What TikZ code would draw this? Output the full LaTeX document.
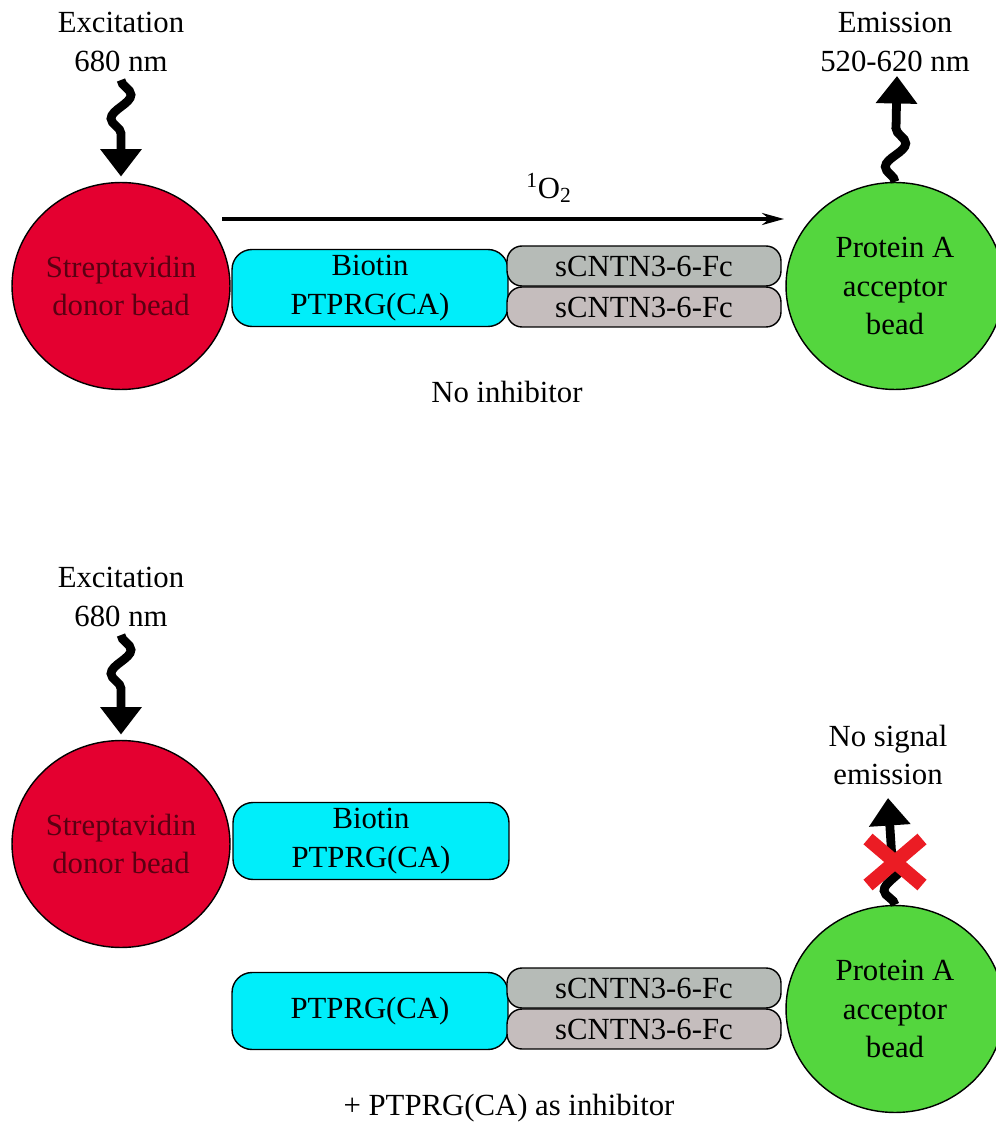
\documentclass[tikz,border=0pt]{standalone}
\usepackage{fontspec}
\setmainfont{Liberation Serif}
\usetikzlibrary{arrows.meta,decorations.pathmorphing,shapes.geometric}

\definecolor{donorred}{RGB}{228,0,48}
\definecolor{donortext}{RGB}{90,0,18}
\definecolor{acceptorgreen}{RGB}{84,214,62}
\definecolor{ptprgcyan}{RGB}{0,238,250}
\definecolor{fcgrayA}{RGB}{182,187,183}
\definecolor{fcgrayB}{RGB}{197,189,189}
\definecolor{crossred}{RGB}{235,28,36}

\begin{document}
\begin{tikzpicture}[x=0.02cm, y=-0.02cm, font=\fontsize{17.5}{22}\selectfont,
    bead/.style={ellipse, draw, line width=0.8pt, minimum width=4.36cm, minimum height=4.14cm, inner sep=0pt, align=center},
    donor/.style={bead, fill=donorred, text=donortext},
    acceptor/.style={bead, fill=acceptorgreen},
    ptprg/.style={draw, line width=0.8pt, fill=ptprgcyan, rounded corners=0.4cm, minimum width=5.52cm, minimum height=1.54cm, inner sep=0pt, align=center},
    fc/.style={draw, line width=0.8pt, rounded corners=0.3cm, minimum width=5.48cm, minimum height=0.8cm, inner sep=0pt},
    photon/.style={line width=5pt, decorate, decoration={snake, amplitude=0.2cm, segment length=0.95cm, post length=0.6cm}, -{Triangle[width=0.8cm,length=0.55cm]}},
    txt/.style={align=center}]
  \useasboundingbox (0,0) rectangle (995,1141);

  % no inhibitor
  \node[txt] (exc1) at (121,42) {Excitation\\680 nm};
  \node[txt] (em1) at (895,42) {Emission\\520-620 nm};
  \node[donor] (donor1) at (121,286) {Streptavidin\\donor bead};
  \node[acceptor] (acc1) at (895,286) {Protein A\\acceptor\\bead};
  \node[ptprg] (bio1) at (370,288) {Biotin\\PTPRG(CA)};
  \node[fc, fill=fcgrayA] (fcA1) at (644,266) {sCNTN3-6-Fc};
  \node[fc, fill=fcgrayB] (fcB1) at (644,307) {sCNTN3-6-Fc};
  \node (case1) at (507,392) {No inhibitor};

  \coordinate (exc1end) at (121,80);
  \draw[photon, shorten >=3pt] (exc1end) -- (donor1.north);
  \coordinate (em1tip) at (897,76);
  \draw[photon] (acc1.north) -- (em1tip);

  \coordinate (o2from) at (222,219);
  \coordinate (o2to) at (784,219);
  \draw[line width=1.8pt, -{Stealth[length=0.44cm,width=0.24cm]}] (o2from) -- (o2to);
  \node (o2) at (549,188) {\textsuperscript{1}O\textsubscript{2}};

  % + inhibitor
  \node[txt] (exc2) at (121,597) {Excitation\\680 nm};
  \node[donor] (donor2) at (121,844) {Streptavidin\\donor bead};
  \node[ptprg] (bio2) at (371,841) {Biotin\\PTPRG(CA)};
  \node[ptprg] (free2) at (370,1011) {PTPRG(CA)};
  \node[fc, fill=fcgrayA] (fcA2) at (644,988) {sCNTN3-6-Fc};
  \node[fc, fill=fcgrayB] (fcB2) at (644,1029) {sCNTN3-6-Fc};
  \node[acceptor] (acc2) at (895,1009) {Protein A\\acceptor\\bead};
  \node[txt] (nosig) at (888,755) {No signal\\emission};
  \node (case2) at (509,1108) {+ PTPRG(CA) as inhibitor};

  \coordinate (exc2end) at (121,635);
  \draw[photon, shorten >=3pt] (exc2end) -- (donor2.north);
  \coordinate (nosigtip) at (888,798);
  \draw[photon] (acc2.north) -- (nosigtip);

  \coordinate (cross) at (895,862);
  \draw[crossred, line width=0.28cm]
    (cross) +(-27,-23) -- +(27,23)
    (cross) +(-27,23) -- +(27,-23);
\end{tikzpicture}
\end{document}
